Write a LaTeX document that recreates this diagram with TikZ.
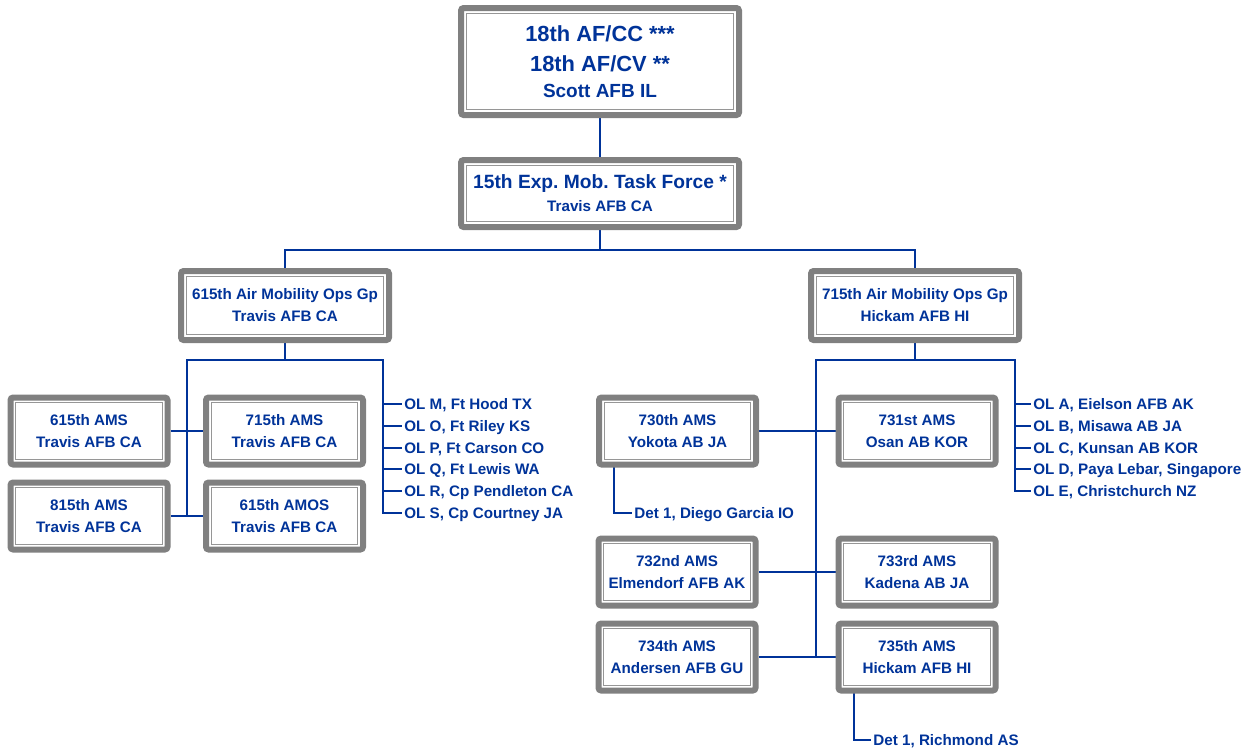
\documentclass[tikz,border=0pt]{standalone}
\usepackage{fontspec}
\setmainfont{Liberation Sans}
\usetikzlibrary{backgrounds}
\definecolor{amcblue}{RGB}{0,51,153}
\definecolor{framegray}{RGB}{128,128,128}
\definecolor{rulegray}{RGB}{150,150,150}
\newcommand{\unitfont}{\fontsize{11.4}{16.5}\selectfont\bfseries}
\frenchspacing

\begin{document}
\begin{tikzpicture}[x=0.75pt,y=-0.75pt]
\tikzset{unitbox/.style={draw=framegray,line width=4.5pt,rounded corners=2pt,fill=white,
    text=amcblue,font=\unitfont,align=center,inner sep=0pt,
    minimum width=117.75pt,minimum height=50.25pt,
    path picture={\draw[rulegray,line width=0.75pt,sharp corners]
      ([shift={(3.9pt,-3.9pt)}]path picture bounding box.north west) rectangle
      ([shift={(-3.9pt,3.9pt)}]path picture bounding box.south east);}}}
\tikzset{sitelabel/.style={text=amcblue,font=\unitfont,anchor=west,inner xsep=1.6pt,
    inner ysep=0pt,text height=8.2pt,text depth=0pt}}
\tikzset{link/.style={draw=amcblue,line width=1.5pt}}
\useasboundingbox (0,0) rectangle (1253,751);
% headquarters
\node[unitbox,minimum width=208.5pt,minimum height=80.25pt,
  font=\fontsize{16.4}{22.5}\selectfont\bfseries] (afcc) at (600,61.5)
  {18th AF/CC ***\\18th AF/CV **\\[-2.5pt]{\fontsize{14.25}{21}\selectfont Scott AFB IL}};
\node[unitbox,minimum width=208.5pt,
  font=\fontsize{14.4}{18}\selectfont\bfseries] (temtf) at (600,193.5)
  {15th Exp. Mob. Task Force *\\[-0.6pt]{\unitfont Travis AFB CA}};
\node[unitbox,minimum width=156pt,minimum height=51.75pt] (amog615) at (285,305.5)
  {615th Air Mobility Ops Gp\\Travis AFB CA};
\node[unitbox,minimum width=156pt,minimum height=51.75pt] (amog715) at (915,305.5)
  {715th Air Mobility Ops Gp\\Hickam AFB HI};
% 615th group
\node[unitbox] (ams615) at (89,431) {615th AMS\\Travis AFB CA};
\node[unitbox] (ams715) at (284.5,431) {715th AMS\\Travis AFB CA};
\node[unitbox] (ams815) at (89,516) {815th AMS\\Travis AFB CA};
\node[unitbox] (amos615) at (284.5,516) {615th AMOS\\Travis AFB CA};
\node[sitelabel] (olm) at (402,404) {OL M, Ft Hood TX};
\node[sitelabel] (olo) at (402,426) {OL O, Ft Riley KS};
\node[sitelabel] (olp) at (402,448) {OL P, Ft Carson CO};
\node[sitelabel] (olq) at (402,469) {OL Q, Ft Lewis WA};
\node[sitelabel] (olr) at (402,491) {OL R, Cp Pendleton CA};
\node[sitelabel] (ols) at (402,513) {OL S, Cp Courtney JA};
% 715th group
\node[unitbox] (ams730) at (677.5,431) {730th AMS\\Yokota AB JA};
\node[unitbox] (ams731) at (917,431) {731st AMS\\Osan AB KOR};
\node[unitbox] (ams732) at (677,572) {732nd AMS\\Elmendorf AFB AK};
\node[unitbox] (ams733) at (917,572) {733rd AMS\\Kadena AB JA};
\node[unitbox] (ams734) at (677,657) {734th AMS\\Andersen AFB GU};
\node[unitbox] (ams735) at (917,657) {735th AMS\\Hickam AFB HI};
\node[sitelabel] (ola) at (1031,404) {OL A, Eielson AFB AK};
\node[sitelabel] (olb) at (1031,426) {OL B, Misawa AB JA};
\node[sitelabel] (olc) at (1031,448) {OL C, Kunsan AB KOR};
\node[sitelabel] (old) at (1031,469) {OL D, Paya Lebar, Singapore};
\node[sitelabel] (ole) at (1031,491) {OL E, Christchurch NZ};
\node[sitelabel] (detdg) at (632,513) {Det 1, Diego Garcia IO};
\node[sitelabel] (detrm) at (871,740) {Det 1, Richmond AS};
% connectors
\begin{scope}[on background layer]
\coordinate (hubA) at (600,250);
\draw[link] (afcc) -- (temtf);
\draw[link] (temtf) -- (hubA);
\draw[link] (amog615.north) |- (hubA) -| (amog715.north);
\coordinate (hubL) at (285,360);
\coordinate (spineL) at (187,360);
\coordinate (olbusL) at (383,360);
\draw[link] (amog615) -- (hubL);
\draw[link] (spineL |- ams815.east) -- (spineL) -- (olbusL) |- (ols);
\draw[link] (ams615) -- (ams715);
\draw[link] (ams815) -- (amos615);
\draw[link] (olbusL) |- (olm);
\draw[link] (olbusL) |- (olo);
\draw[link] (olbusL) |- (olp);
\draw[link] (olbusL) |- (olq);
\draw[link] (olbusL) |- (olr);
\coordinate (hubR) at (915,360);
\coordinate (spineR) at (816,360);
\coordinate (olbusR) at (1015,360);
\draw[link] (amog715) -- (hubR);
\draw[link] (spineR |- ams734.east) -- (spineR) -- (olbusR) |- (ole);
\draw[link] (ams730) -- (ams731);
\draw[link] (ams732) -- (ams733);
\draw[link] (ams734) -- (ams735);
\draw[link] (olbusR) |- (ola);
\draw[link] (olbusR) |- (olb);
\draw[link] (olbusR) |- (olc);
\draw[link] (olbusR) |- (old);
\coordinate (dgdrop) at (614,465);
\coordinate (rmdrop) at (854,690);
\draw[link] (dgdrop) |- (detdg);
\draw[link] (rmdrop) |- (detrm);
\end{scope}
\end{tikzpicture}
\end{document}
